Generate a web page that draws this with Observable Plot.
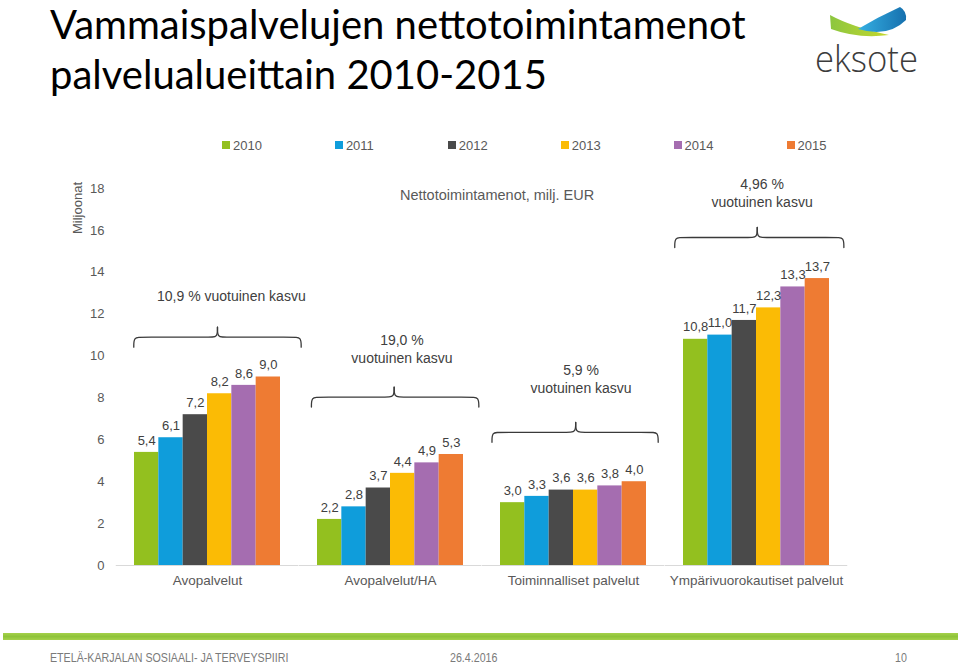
<!DOCTYPE html>
<html>
<head>
<meta charset="utf-8">
<script src="https://cdn.jsdelivr.net/npm/d3@7"></script>
<script src="https://cdn.jsdelivr.net/npm/@observablehq/plot@0.6"></script>
<style>
  html, body { margin: 0; padding: 0; background: #ffffff; }
  #page { position: relative; width: 960px; height: 665px; overflow: hidden; font-family: "Liberation Sans", Arial, sans-serif; }
  .tline { position: absolute; left: 50px; font-family: Lato, "Open Sans", sans-serif; font-weight: 400; font-size: 40px; line-height: 48px; height: 48px; color: #000; white-space: nowrap; }
  #logo { position: absolute; left: 800px; top: 0px; }
  #legend { position: absolute; left: 0; top: 137px; width: 960px; height: 16px; }
  .litem { position: absolute; top: 0; height: 16px; display: flex; align-items: center; font-size: 13px; color: #595959; }
  .lsw { width: 8px; height: 8px; margin-right: 3px; }
  #chart { position: absolute; left: 0; top: 160px; }
  #ylabel { position: absolute; left: 77px; top: 208px; transform: translate(-50%, -50%) rotate(-90deg); font-size: 13px; color: #595959; white-space: nowrap; z-index: 2; }
  #footline { position: absolute; left: 3px; top: 633px; width: 955px; height: 7px; background: linear-gradient(#a5d14a, #8fc33a 50%, #a5d14a); }
  .foot { position: absolute; top: 650px; font-family: "Liberation Sans", sans-serif; font-size: 13px; color: #7a7a7a; white-space: nowrap; transform: scaleX(0.82); transform-origin: 0 50%; }
</style>
</head>
<body>
<div id="page">
  <div class="tline" style="top:0px;">Vammaispalvelujen nettotoimintamenot</div>
  <div class="tline" style="top:50px;">palvelualueittain 2010-2015</div>
  <svg id="logo" width="140" height="90" viewBox="0 0 140 90">
    <defs>
      <linearGradient id="gG" x1="0" x2="1" y1="0" y2="0">
        <stop offset="0" stop-color="#8cc63f"/>
        <stop offset="1" stop-color="#c5d82e"/>
      </linearGradient>
      <linearGradient id="gB" x1="0" x2="1" y1="0" y2="0">
        <stop offset="0" stop-color="#35b0e3"/>
        <stop offset="1" stop-color="#1670ae"/>
      </linearGradient>
    </defs>
    <path d="M30,15 Q52,27 89,35 Q58,39 31,29 Z" fill="url(#gG)"/>
    <path d="M58,29 Q78,17 100,7 Q107,11 106,20 Q88,38 58,29 Z" fill="url(#gB)"/>
    <text x="15" y="72" font-family="'Open Sans', 'Noto Sans', sans-serif" font-weight="300" font-size="36" fill="#3c3c3c" textLength="103" lengthAdjust="spacingAndGlyphs">eksote</text>
  </svg>
  <div id="legend"></div>
  <div id="chart"></div>
  <div id="ylabel">Miljoonat</div>
  <div id="footline"></div>
  <div class="foot" style="left:50px;">ETELÄ-KARJALAN SOSIAALI- JA TERVEYSPIIRI</div>
  <div class="foot" style="left:450px;">26.4.2016</div>
  <div class="foot" style="left:895px;">10</div>
</div>
<script>
// ---- data ----
const categories = ["Avopalvelut", "Avopalvelut/HA", "Toiminnalliset palvelut", "Ympärivuorokautiset palvelut"];
const years = [2010, 2011, 2012, 2013, 2014, 2015];
const avopalvelut = [5.4, 6.1, 7.2, 8.2, 8.6, 9.0];
const avopalvelutHA = [2.2, 2.8, 3.7, 4.4, 4.9, 5.3];
const toiminnalliset = [3.0, 3.3, 3.6, 3.6, 3.8, 4.0];
const ymparivuorokautiset = [10.8, 11.0, 11.7, 12.3, 13.3, 13.7];
const growthLabels = ["10,9 % vuotuinen kasvu", "19,0 %\nvuotuinen kasvu", "5,9 %\nvuotuinen kasvu", "4,96 %\nvuotuinen kasvu"];
const unitLabel = "Nettotoimintamenot, milj. EUR";
const yTicks = [0, 2, 4, 6, 8, 10, 12, 14, 16, 18];

// ---- styles ----
const colors = ["#93c01f", "#0f9ddb", "#4a4a4a", "#fbbb05", "#a56db0", "#ee7b33"];

// ---- annotation layout (positions in the chart's own units) ----
const braceLayout = [
  { x0: 2009.47, tip: 2012.91, x1: 2016.35, y: 10.90, tx: 2013.48, ty: 12.89 },
  { x0: 2009.25, tip: 2012.65, x1: 2016.13, y: 8.04,  tx: 2012.97, ty: 10.36 },
  { x0: 2009.15, tip: 2012.59, x1: 2015.98, y: 6.36,  tx: 2012.81, ty: 8.94 },
  { x0: 2009.14, tip: 2012.53, x1: 2016.09, y: 15.66, tx: 2012.73, ty: 17.81 }
];
const unitLabelPos = { cat: 2, x: 2009.36, y: 17.67 };

const seriesByCat = [avopalvelut, avopalvelutHA, toiminnalliset, ymparivuorokautiset];
const rows = [];
categories.forEach((c, i) => years.forEach((yr, j) => rows.push({ cat: c, year: yr, value: seriesByCat[i][j] })));

const fmt = v => v.toFixed(1).replace(".", ",");

const h = 0.477, r = 0.3;
const bracePts = [];
braceLayout.forEach((b, i) => {
  const c = categories[i];
  const L = [[b.x0, b.y - h], [b.x0, b.y], [b.x0 + r, b.y], [b.tip - r, b.y], [b.tip, b.y], [b.tip, b.y + h]];
  const R = [[b.tip, b.y + h], [b.tip, b.y], [b.tip + r, b.y], [b.x1 - r, b.y], [b.x1, b.y], [b.x1, b.y - h]];
  L.forEach(p => bracePts.push({ cat: c, half: c + "L", x: p[0], y: p[1] }));
  R.forEach(p => bracePts.push({ cat: c, half: c + "R", x: p[0], y: p[1] }));
});
const annots = braceLayout.map((b, i) => ({ cat: categories[i], x: b.tx, y: b.ty, label: growthLabels[i] }));
const unitAnn = [{ cat: categories[unitLabelPos.cat], x: unitLabelPos.x, y: unitLabelPos.y, label: unitLabel }];

const chart = Plot.plot({
  width: 960,
  height: 445,
  marginTop: 28,
  marginBottom: 40,
  marginLeft: 115,
  marginRight: 111,
  fx: { domain: categories, paddingInner: 0.2, paddingOuter: 0.1, axis: "bottom", label: null, tickSize: 0, tickPadding: 10 },
  x: { domain: [2009.5, 2015.5], axis: null },
  y: { domain: [0, 18], ticks: yTicks, tickSize: 0, tickPadding: 30, label: null, tickFormat: d => String(d) },
  color: { type: "ordinal", domain: years, range: colors },
  style: { fontFamily: "'Liberation Sans', Arial, sans-serif", fontSize: "13px", color: "#595959", background: "white" },
  marks: [
    Plot.ruleY([0], { x1: () => 2008.75, x2: () => 2016.25, stroke: "#d9d9d9", strokeWidth: 1 }),
    Plot.rect(rows, { fx: "cat", x1: d => d.year - 0.5, x2: d => d.year + 0.5, y1: () => 0, y2: "value", fill: "year" }),
    Plot.text(rows, { fx: "cat", x: "year", y: "value", text: d => fmt(d.value), lineAnchor: "middle", dy: -12, fill: "#404040", fontSize: 13 }),
    Plot.line(bracePts, { fx: "cat", x: "x", y: "y", z: "half", curve: "basis", stroke: "#3a3a3a", strokeWidth: 1.3 }),
    Plot.text(annots, { fx: "cat", x: "x", y: "y", text: "label", lineAnchor: "middle", lineHeight: 1.29, fill: "#404040", fontSize: 14 }),
    Plot.text(unitAnn, { fx: "cat", x: "x", y: "y", text: "label", lineAnchor: "middle", fill: "#595959", fontSize: 14.5 })
  ]
});
document.getElementById("chart").appendChild(chart);
d3.select(chart).selectAll('[aria-label^="fx-axis"]').attr("font-size", 13.5);

// ---- legend ----
const legend = document.getElementById("legend");
years.forEach((yr, i) => {
  const it = document.createElement("div");
  it.className = "litem";
  it.style.left = (222 + i * 112.9) + "px";
  it.innerHTML = `<span class="lsw" style="background:${colors[i]}"></span><span>${yr}</span>`;
  legend.appendChild(it);
});
</script>
</body>
</html>
